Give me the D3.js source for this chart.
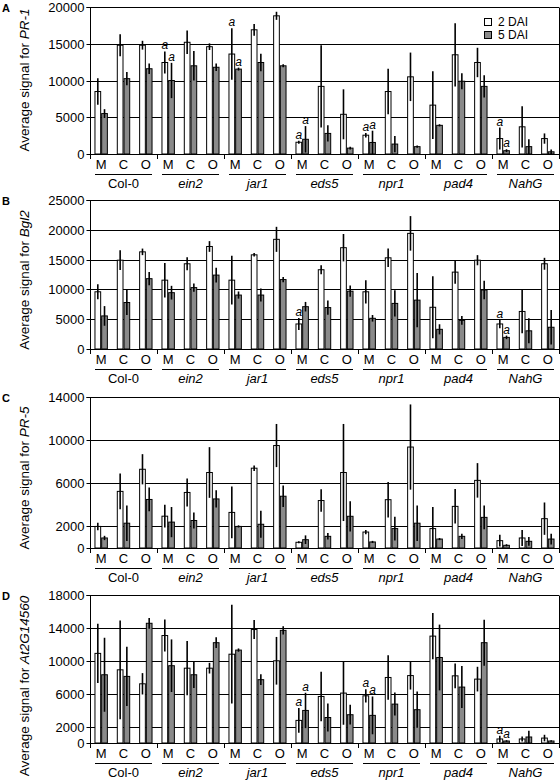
<!DOCTYPE html>
<html>
<head>
<meta charset="utf-8">
<script src="https://cdn.jsdelivr.net/npm/d3@7"></script>
<style>
  html, body { margin: 0; padding: 0; background: #fff; }
  svg { display: block; }
  text { font-family: "Liberation Sans", Arial, sans-serif; fill: #000; }
</style>
</head>
<body>
<svg id="chart" width="560" height="784"></svg>
<script>
// ---------- data ----------
const genotypes = ["Col-0", "ein2", "jar1", "eds5", "npr1", "pad4", "NahG"];
const treatments = ["M", "C", "O"];
const seriesNames = ["2 DAI", "5 DAI"];

// Panel A: PR-1
const prA_2dai    = [8500,14800,14800, 12450,15200,14600, 13600,16900,18800, 1600,9200,5400, 2560,8500,10500, 6650,13500,12450, 2100,3700,2100];
const prA_2daiErr = [1800,1500,600, 1500,1600,450, 3500,800,550, 200,5600,3400, 300,3100,3300, 4600,4300,2000, 1500,2800,700];
const prA_5dai    = [5500,10250,11600, 10000,12000,11800, 11550,12450,12000, 2000,2800,800, 1570,1350,1000, 3900,9900,9200, 450,1000,300];
const prA_5daiErr = [600,900,700, 2400,2000,500, 200,1200,200, 1800,1100,200, 1600,1100,150, 150,1100,1500, 200,1000,300];
const prA_ticks   = [0,5000,10000,15000,20000];
const prA_annot   = [["ein2","M",0],["ein2","M",1],["jar1","M",0],["jar1","M",1],["eds5","M",0],["eds5","M",1],["npr1","M",0],["npr1","M",1],["NahG","M",0],["NahG","M",1]];

// Panel B: Bgl2
const bgB_2dai    = [9600,14900,16300, 11550,14300,17200, 11550,15800,18400, 4200,13300,17000, 9600,15300,19400, 7000,12900,14900, 4200,6300,14300];
const bgB_2daiErr = [1250,1650,550, 2900,1100,900, 4100,300,2100, 1000,750,2300, 1950,1550,2900, 5200,1950,850, 700,3650,1000];
const bgB_5dai    = [5550,7800,11800, 9450,10300,12400, 9050,9050,11650, 7100,6950,9700, 5150,7650,8200, 3300,4800,9900, 1950,3050,3650];
const bgB_5daiErr = [1650,2100,1100, 1150,700,1250, 600,1100,450, 800,1200,950, 550,2200,4550, 850,750,1550, 300,2100,2900];
const bgB_ticks   = [0,5000,10000,15000,20000,25000];
const bgB_annot   = [["eds5","M",0],["NahG","M",0],["NahG","M",1]];

// Panel C: PR-5
const prC_2dai    = [2000,5250,7300, 2950,5150,7000, 3300,7400,9500, 530,4400,7000, 1480,4480,9360, 1800,3860,6270, 680,930,2720];
const prC_2daiErr = [350,1650,1400, 1050,1300,2350, 2400,250,2000, 100,1050,4500, 200,1650,3950, 2000,1600,1600, 550,750,1500];
const prC_5dai    = [930,2300,4500, 2400,2550,4550, 2000,2200,4800, 770,1080,2940, 560,1800,2300, 830,1080,2840, 250,620,830];
const prC_5daiErr = [200,1650,1100, 1400,750,800, 100,1250,1000, 400,300,1400, 100,1100,1650, 100,250,1100, 100,400,500];
const prC_ticks   = [0,2000,6000,10000,14000];
const prC_annot   = [];

// Panel D: At2G14560
const atD_2dai    = [10900,8900,7200, 13070,9100,9100, 10800,13800,10000, 2750,5660,6070, 5740,7970,8200, 13000,8170,7770, 490,490,600];
const atD_2daiErr = [3600,6000,1300, 1950,3300,650, 6000,1150,2900, 1500,3000,3850, 800,2700,1700, 2800,1500,1500, 400,300,400];
const atD_5dai    = [8300,8100,14560, 9400,8300,12200, 11300,7700,13700, 3960,3100,3440, 3360,4730,4050, 10400,6800,12200, 240,730,240];
const atD_5daiErr = [4500,3600,650, 3200,1600,650, 200,650,500, 2150,1700,1200, 2300,1400,2200, 4000,2550,2800, 100,750,100];
const atD_ticks   = [0,2000,6000,10000,14000,18000];
const atD_annot   = [["eds5","M",0],["eds5","M",1],["npr1","M",0],["npr1","M",1],["NahG","M",0],["NahG","M",1]];

// ---------- layout ----------
const panels = [
  {letter:"A", gene:"PR-1", top:7, bottom:154, ticks:prA_ticks, v:[prA_2dai,prA_5dai], e:[prA_2daiErr,prA_5daiErr], annot:prA_annot, labelY:80, legend:true},
  {letter:"B", gene:"Bgl2", top:200, bottom:349, ticks:bgB_ticks, v:[bgB_2dai,bgB_5dai], e:[bgB_2daiErr,bgB_5daiErr], annot:bgB_annot, labelY:280},
  {letter:"C", gene:"PR-5", top:397, bottom:548, ticks:prC_ticks, v:[prC_2dai,prC_5dai], e:[prC_2daiErr,prC_5daiErr], annot:prC_annot, labelY:478},
  {letter:"D", gene:"At2G14560", top:595, bottom:743, ticks:atD_ticks, v:[atD_2dai,atD_5dai], e:[atD_2daiErr,atD_5daiErr], annot:atD_annot, labelY:686}
];
const x0 = 90, x1 = 559;
const fills = ["#ffffff", "#8a8a8a"];

const svg = d3.select("#chart");

const xGroup = d3.scaleBand().domain(genotypes).range([x0, x1]).padding(0);
const xTreat = d3.scaleBand().domain(treatments).range([0, xGroup.bandwidth()]).padding(0);
const xSer = d3.scaleBand().domain([0,1]).range([xTreat.bandwidth()*0.2, xTreat.bandwidth()*0.8]).padding(0);

panels.forEach(p => {
  const g = svg.append("g");
  const maxV = p.ticks[p.ticks.length-1];
  const y = d3.scaleLinear().domain([0, maxV]).range([p.bottom, p.top]);

  // grid lines
  g.selectAll("line.grid").data(p.ticks.filter(t => t > 0)).join("line")
    .attr("x1", x0).attr("x2", x1)
    .attr("y1", d => Math.round(y(d)) + 0.5).attr("y2", d => Math.round(y(d)) + 0.5)
    .attr("stroke", "#000").attr("stroke-width", 1);
  // right border
  g.append("line").attr("x1", x1 + 0.5).attr("x2", x1 + 0.5)
    .attr("y1", Math.round(y(maxV)) + 0.5).attr("y2", Math.round(y(0)) + 0.5)
    .attr("stroke", "#000");

  // bars
  const rows = [];
  genotypes.forEach((gt, gi) => treatments.forEach((tr, ti) => [0,1].forEach(s => {
    const i = gi*3 + ti;
    rows.push({gt, tr, s, val: p.v[s][i], err: p.e[s][i]});
  })));
  const bx = d => xGroup(d.gt) + xTreat(d.tr) + xSer(d.s);
  g.selectAll("rect.bar").data(rows).join("rect")
    .attr("x", d => bx(d) + 0.5)
    .attr("y", d => y(d.val))
    .attr("width", xSer.bandwidth() - 1)
    .attr("height", d => y(0) - y(d.val))
    .attr("fill", d => fills[d.s])
    .attr("stroke", "#000").attr("stroke-width", 1);
  // error bars
  g.selectAll("line.err").data(rows).join("line")
    .attr("x1", d => bx(d) + xSer.bandwidth()/2).attr("x2", d => bx(d) + xSer.bandwidth()/2)
    .attr("y1", d => y(d.val + d.err)).attr("y2", d => y(Math.max(0, d.val - d.err)))
    .attr("stroke", "#000").attr("stroke-width", 1.6);

  // annotations "a"
  g.selectAll("text.ann").data(p.annot).join("text")
    .attr("x", d => xGroup(d[0]) + xTreat(d[1]) + xSer(d[2]) + xSer.bandwidth()/2)
    .attr("y", d => {
      const i = genotypes.indexOf(d[0])*3 + treatments.indexOf(d[1]);
      return y(p.v[d[2]][i] + p.e[d[2]][i]) - 2;
    })
    .attr("text-anchor", "middle")
    .attr("font-size", 12).attr("font-style", "italic")
    .text("a");

  // x axis baseline
  g.append("line").attr("x1", x0).attr("x2", x1 + 1)
    .attr("y1", Math.round(y(0)) + 0.5).attr("y2", Math.round(y(0)) + 0.5)
    .attr("stroke", "#000");
  // group boundary ticks
  const bounds = genotypes.map(gt => xGroup(gt)).concat([x1]);
  g.selectAll("line.gtick").data(bounds).join("line")
    .attr("x1", d => Math.round(d) + 0.5).attr("x2", d => Math.round(d) + 0.5)
    .attr("y1", Math.round(y(0))).attr("y2", Math.round(y(0)) + 5)
    .attr("stroke", "#000");

  // y axis
  const yAxis = d3.axisLeft(y).tickValues(p.ticks).tickSize(4).tickPadding(2).tickFormat(d3.format("d"));
  const ya = g.append("g").attr("transform", `translate(${x0 + 0.5},0.5)`).call(yAxis);
  ya.select(".domain").attr("stroke", "#000").attr("d", `M-4,${Math.round(y(maxV))}H0V${Math.round(y(0))}`);
  ya.selectAll(".tick line").attr("stroke", "#000");
  ya.selectAll(".tick text").attr("font-size", 13).attr("font-family", "Liberation Sans, Arial, sans-serif").attr("fill", "#000").attr("dy", "0.36em");
  ya.selectAll(".tick").attr("transform", d => `translate(0,${Math.round(y(d))})`);

  // treatment labels
  const tl = [];
  genotypes.forEach(gt => treatments.forEach(tr => tl.push({gt, tr})));
  g.selectAll("text.tr").data(tl).join("text")
    .attr("x", d => xGroup(d.gt) + xTreat(d.tr) + xTreat.bandwidth()/2)
    .attr("y", p.bottom + 15)
    .attr("text-anchor", "middle").attr("font-size", 13)
    .text(d => d.tr);
  // underline per group
  g.selectAll("line.ul").data(genotypes).join("line")
    .attr("x1", d => xGroup(d) + 5).attr("x2", d => xGroup(d) + xGroup.bandwidth() - 5)
    .attr("y1", p.bottom + 20.5).attr("y2", p.bottom + 20.5)
    .attr("stroke", "#000");
  // genotype labels
  g.selectAll("text.gt").data(genotypes).join("text")
    .attr("x", d => xGroup(d) + xGroup.bandwidth()/2)
    .attr("y", p.bottom + 34)
    .attr("text-anchor", "middle").attr("font-size", 13)
    .attr("font-style", d => d === "Col-0" ? "normal" : "italic")
    .text(d => d);

  // y label
  const yl = g.append("text")
    .attr("transform", `translate(29,${p.labelY}) rotate(-90)`)
    .attr("text-anchor", "middle").attr("font-size", 13.5);
  yl.append("tspan").text("Average signal for ");
  yl.append("tspan").attr("font-style", "italic").text(p.gene);

  // panel letter
  g.append("text").attr("x", 2).attr("y", p.top + 5)
    .attr("font-size", 11).attr("font-weight", "bold").text(p.letter);

  // legend
  if (p.legend) {
    const lg = g.append("g").attr("transform", "translate(484,18)");
    seriesNames.forEach((nm, i) => {
      lg.append("rect").attr("x", 0.5).attr("y", i*13 + 0.5).attr("width", 7).attr("height", 7)
        .attr("fill", fills[i]).attr("stroke", "#000");
      lg.append("text").attr("x", 14).attr("y", i*13 + 8).attr("font-size", 12).text(nm);
    });
  }
});
</script>
</body>
</html>
